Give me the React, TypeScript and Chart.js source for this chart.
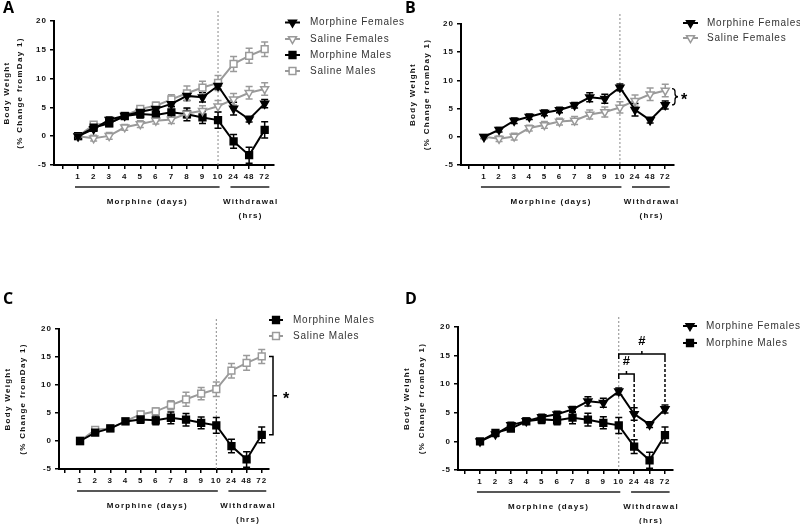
import React, { useEffect, useRef } from 'react';
import { Chart, registerables } from 'chart.js';

Chart.register(...registerables);

// ---------------- data ----------------
const xLabels = ['1', '2', '3', '4', '5', '6', '7', '8', '9', '10', '24', '48', '72'];
const xPositions = [1, 2, 3, 4, 5, 6, 7, 8, 9, 10, 11, 12, 13];
const xTickPositions = [0, 1, 2, 3, 4, 5, 6, 7, 8, 9, 10, 11, 12, 13];
const yTicks = [-5, 0, 5, 10, 15, 20];

const morphineFemales = [0, 1.25, 2.85, 3.55, 4.25, 4.75, 5.6, 7.0, 6.75, 8.75, 4.8, 2.95, 5.65];
const morphineFemalesErr = [0.3, 0.4, 0.5, 0.5, 0.5, 0.5, 0.5, 0.8, 0.8, 0.6, 1.1, 0.5, 0.7];
const salineFemales = [0, -0.35, 0.05, 1.55, 2.1, 2.7, 2.9, 3.95, 4.4, 5.2, 6.4, 7.55, 8.2];
const salineFemalesErr = [0.3, 0.5, 0.6, 0.5, 0.6, 0.6, 0.7, 0.8, 0.9, 1.0, 1.0, 1.1, 1.1];
const morphineMales = [0, 1.5, 2.25, 3.5, 3.85, 3.7, 4.15, 3.8, 3.25, 2.8, -0.9, -3.3, 1.1];
const morphineMalesErr = [0.3, 0.4, 0.4, 0.5, 0.7, 0.8, 1.05, 1.1, 1.05, 1.4, 1.2, 1.4, 1.4];
const salineMales = [0, 2.0, 2.25, 3.55, 4.75, 5.3, 6.4, 7.45, 8.45, 9.25, 12.55, 13.95, 15.1];
const salineMalesErr = [0.3, 0.4, 0.4, 0.4, 0.5, 0.6, 0.8, 1.25, 1.1, 1.3, 1.3, 1.3, 1.25];

const yTitle = ['Body Weight', '(% Change fromDay 1)'];
const groupMorphine = 'Morphine (days)';
const groupWithdrawal = ['Withdrawal', '(hrs)'];

// ---------------- styles ----------------
const BLACK = '#000000';
const GRAY = '#9a9a9a';
const TEXT = '#111111';
const FONT = '"Liberation Sans", Arial, Helvetica, sans-serif';

type SeriesKey = 'mf' | 'sf' | 'mm' | 'sm';
interface SeriesDef {
  label: string;
  data: number[];
  err: number[];
  color: string;
  shape: 'triangle' | 'square';
  filled: boolean;
}
const SERIES: Record<SeriesKey, SeriesDef> = {
  mf: { label: 'Morphine Females', data: morphineFemales, err: morphineFemalesErr, color: BLACK, shape: 'triangle', filled: true },
  sf: { label: 'Saline Females', data: salineFemales, err: salineFemalesErr, color: GRAY, shape: 'triangle', filled: false },
  mm: { label: 'Morphine Males', data: morphineMales, err: morphineMalesErr, color: BLACK, shape: 'square', filled: true },
  sm: { label: 'Saline Males', data: salineMales, err: salineMalesErr, color: GRAY, shape: 'square', filled: false },
};

interface PanelCfg {
  letter: string;
  ox: number;
  oy: number;
  w: number;
  left: number;
  right: number;
  top: number;
  bottom: number;
  xMin: number;
  xMax: number;
  series: SeriesKey[];
  legend: { x1: number; x2: number; tx: number; ys: number[] };
  titleX: [number, number];
  letterPos: [number, number];
  extra?: (chart: any) => void;
}

function drawMarker(ctx: CanvasRenderingContext2D, shape: string, x: number, y: number, r: number, fill: string, stroke: string) {
  ctx.beginPath();
  if (shape === 'triangle') {
    ctx.moveTo(x, y + r);
    ctx.lineTo(x - r * 0.866, y - r / 2);
    ctx.lineTo(x + r * 0.866, y - r / 2);
    ctx.closePath();
  } else {
    const h = r * Math.SQRT1_2;
    ctx.rect(x - h, y - h, 2 * h, 2 * h);
  }
  ctx.fillStyle = fill;
  ctx.fill();
  ctx.strokeStyle = stroke;
  ctx.lineWidth = 1.5;
  ctx.stroke();
}

function text(ctx: CanvasRenderingContext2D, s: string, x: number, y: number, font: string, align: CanvasTextAlign = 'center', spacing = '0px', color = TEXT) {
  ctx.save();
  (ctx as any).letterSpacing = spacing;
  ctx.font = font;
  ctx.fillStyle = color;
  ctx.textAlign = align;
  ctx.textBaseline = 'middle';
  ctx.fillText(s, x, y);
  ctx.restore();
}

function squareBracket(ctx: CanvasRenderingContext2D, x: number, yt: number, yb: number) {
  const mid = (yt + yb) / 2;
  ctx.save();
  ctx.strokeStyle = BLACK;
  ctx.lineWidth = 1.5;
  ctx.beginPath();
  ctx.moveTo(x - 4, yt);
  ctx.lineTo(x, yt);
  ctx.lineTo(x, yb);
  ctx.lineTo(x - 4, yb);
  ctx.moveTo(x, mid);
  ctx.lineTo(x + 4, mid);
  ctx.stroke();
  ctx.restore();
}

function curlyBrace(ctx: CanvasRenderingContext2D, x: number, yt: number, yb: number) {
  const mid = (yt + yb) / 2;
  ctx.save();
  ctx.strokeStyle = BLACK;
  ctx.lineWidth = 1.3;
  ctx.beginPath();
  ctx.moveTo(x - 3, yt);
  ctx.quadraticCurveTo(x, yt, x, yt + 3);
  ctx.lineTo(x, mid - 3);
  ctx.quadraticCurveTo(x, mid, x + 3, mid);
  ctx.quadraticCurveTo(x, mid, x, mid + 3);
  ctx.lineTo(x, yb - 3);
  ctx.quadraticCurveTo(x, yb, x - 3, yb);
  ctx.stroke();
  ctx.restore();
}

function hashBracket(ctx: CanvasRenderingContext2D, xa: number, xb: number, yb: number) {
  const xm = (xa + xb) / 2;
  ctx.save();
  ctx.strokeStyle = BLACK;
  ctx.lineWidth = 1.5;
  ctx.beginPath();
  ctx.moveTo(xa, yb + 5);
  ctx.lineTo(xa, yb);
  ctx.lineTo(xb, yb);
  ctx.lineTo(xb, yb + 5);
  ctx.moveTo(xm, yb);
  ctx.lineTo(xm, yb - 3);
  ctx.stroke();
  ctx.restore();
  text(ctx, '#', xm, yb - 12, `bold 13px ${FONT}`, 'center', '0px', BLACK);
}

function dashedDrop(ctx: CanvasRenderingContext2D, x: number, y1: number, y2: number) {
  ctx.save();
  ctx.strokeStyle = BLACK;
  ctx.lineWidth = 1.5;
  ctx.setLineDash([3, 2]);
  ctx.beginPath();
  ctx.moveTo(x, y1);
  ctx.lineTo(x, y2);
  ctx.stroke();
  ctx.restore();
}

const PANELS: PanelCfg[] = [
  {
    letter: 'A', ox: 0, oy: 0, w: 420,
    left: 54, right: 274, top: 21, bottom: 165,
    xMin: -0.55, xMax: 13.6,
    series: ['mf', 'sf', 'mm', 'sm'],
    legend: { x1: 285, x2: 300, tx: 310, ys: [22.5, 39, 55, 71] },
    titleX: [7, 20],
    letterPos: [3, 13],
  },
  {
    letter: 'B', ox: 400, oy: 0, w: 400,
    left: 61, right: 274, top: 24, bottom: 165,
    xMin: -0.52, xMax: 13.58,
    series: ['mf', 'sf'],
    legend: { x1: 283, x2: 298, tx: 307, ys: [23, 38] },
    titleX: [13, 27],
    letterPos: [5, 13],
    extra: (chart) => {
      const { ctx, scales: { y } } = chart;
      const yt = y.getPixelForValue(salineFemales[12]) - 2;
      const yb = y.getPixelForValue(morphineFemales[12]);
      curlyBrace(ctx, 275, yt, yb);
      text(ctx, '*', 284, (yt + yb) / 2 + 4, `bold 16px ${FONT}`, 'center', '0px', BLACK);
    },
  },
  {
    letter: 'C', ox: 0, oy: 262, w: 400,
    left: 59, right: 269, top: 67, bottom: 207,
    xMin: -0.39, xMax: 13.48,
    series: ['mm', 'sm'],
    legend: { x1: 269, x2: 283, tx: 293, ys: [58, 74] },
    titleX: [8, 23],
    letterPos: [3, 42],
    extra: (chart) => {
      const { ctx, scales: { y } } = chart;
      const yt = y.getPixelForValue(salineMales[12]);
      const yb = y.getPixelForValue(morphineMales[12]);
      squareBracket(ctx, 273, yt, yb);
      text(ctx, '*', 286, (yt + yb) / 2 + 4, `bold 16px ${FONT}`, 'center', '0px', BLACK);
    },
  },
  {
    letter: 'D', ox: 400, oy: 262, w: 400,
    left: 58, right: 273, top: 65, bottom: 208,
    xMin: -0.43, xMax: 13.52,
    series: ['mf', 'mm'],
    legend: { x1: 283, x2: 297, tx: 306, ys: [64, 81] },
    titleX: [7, 22],
    letterPos: [5, 42],
    extra: (chart) => {
      const { ctx, scales: { x, y } } = chart;
      const x10 = x.getPixelForValue(10);
      const x11 = x.getPixelForValue(11);
      const x13 = x.getPixelForValue(13);
      const yBig = y.getPixelForValue(15.3);
      const ySmall = y.getPixelForValue(11.8);
      hashBracket(ctx, x10, x13, yBig);
      hashBracket(ctx, x10, x11, ySmall);
      dashedDrop(ctx, x11, ySmall + 5, y.getPixelForValue(0.5));
      dashedDrop(ctx, x13, yBig + 5, y.getPixelForValue(6.9));
    },
  },
];

function buildConfig(cfg: PanelCfg): any {
  const H = 262;
  const datasets = cfg.series.map((k) => {
    const s = SERIES[k];
    return {
      label: s.label,
      data: s.data.map((v, i) => ({ x: xPositions[i], y: v })),
      borderColor: s.color,
      borderWidth: 2,
      tension: 0,
      fill: false,
      pointStyle: s.shape === 'triangle' ? 'triangle' : 'rect',
      rotation: s.shape === 'triangle' ? 180 : 0,
      pointRotation: s.shape === 'triangle' ? 180 : 0,
      pointRadius: s.shape === 'triangle' ? 4.6 : 4.8,
      pointBackgroundColor: s.filled ? s.color : '#ffffff',
      pointBorderColor: s.color,
      pointBorderWidth: 1.5,
    };
  });

  const tickFont = { family: FONT, size: 8, weight: 'bold' as const };

  const decor = {
    id: 'decor' + cfg.letter,
    beforeDraw(chart: any) {
      (chart.ctx as any).letterSpacing = '1px';
    },
    beforeDatasetsDraw(chart: any) {
      const { ctx, chartArea, scales: { x, y } } = chart;
      ctx.save();
      // dotted divider at day 10
      const xd = x.getPixelForValue(10);
      ctx.strokeStyle = '#8a8a8a';
      ctx.lineWidth = 1;
      ctx.setLineDash([2, 2]);
      ctx.beginPath();
      ctx.moveTo(xd, chartArea.top - 10);
      ctx.lineTo(xd, chartArea.bottom);
      ctx.stroke();
      ctx.setLineDash([]);
      // error bars
      for (const k of cfg.series) {
        const s = SERIES[k];
        ctx.strokeStyle = s.color;
        ctx.lineWidth = 1.5;
        s.data.forEach((v, i) => {
          const px = x.getPixelForValue(xPositions[i]);
          const yt = y.getPixelForValue(v + s.err[i]);
          const yb = y.getPixelForValue(v - s.err[i]);
          ctx.beginPath();
          ctx.moveTo(px, yt);
          ctx.lineTo(px, yb);
          ctx.moveTo(px - 3.5, yt);
          ctx.lineTo(px + 3.5, yt);
          ctx.moveTo(px - 3.5, yb);
          ctx.lineTo(px + 3.5, yb);
          ctx.stroke();
        });
      }
      ctx.restore();
    },
    afterDraw(chart: any) {
      const { ctx, chartArea, scales: { x } } = chart;
      const { top, bottom } = chartArea;
      ctx.save();
      (ctx as any).letterSpacing = '0px';

      // group underlines
      ctx.strokeStyle = '#222222';
      ctx.lineWidth = 1.5;
      ctx.beginPath();
      ctx.moveTo(x.getPixelForValue(0.8), bottom + 22);
      ctx.lineTo(x.getPixelForValue(10.1), bottom + 22);
      ctx.moveTo(x.getPixelForValue(10.8), bottom + 22);
      ctx.lineTo(x.getPixelForValue(13.3), bottom + 22);
      ctx.stroke();

      const bf = `bold 8px ${FONT}`;
      text(ctx, groupMorphine, x.getPixelForValue(5.45), bottom + 37, bf, 'center', '1.3px');
      text(ctx, groupWithdrawal[0], x.getPixelForValue(12.1), bottom + 37, bf, 'center', '1.3px');
      text(ctx, groupWithdrawal[1], x.getPixelForValue(12.1), bottom + 51, bf, 'center', '1.3px');

      // y title (rotated)
      const cy = (top + bottom) / 2;
      yTitle.forEach((t, i) => {
        ctx.save();
        ctx.translate(cfg.titleX[i], cy);
        ctx.rotate(-Math.PI / 2);
        text(ctx, t, 0, 0, bf, 'center', '1.3px');
        ctx.restore();
      });

      // legend
      cfg.series.forEach((k, i) => {
        const s = SERIES[k];
        const ly = cfg.legend.ys[i];
        ctx.save();
        ctx.strokeStyle = s.color;
        ctx.lineWidth = 2;
        ctx.beginPath();
        ctx.moveTo(cfg.legend.x1, ly);
        ctx.lineTo(cfg.legend.x2, ly);
        ctx.stroke();
        drawMarker(ctx, s.shape, (cfg.legend.x1 + cfg.legend.x2) / 2, ly, s.shape === 'triangle' ? 4.6 : 4.8, s.filled ? s.color : '#ffffff', s.color);
        ctx.restore();
        text(ctx, s.label, cfg.legend.tx, ly, `10px ${FONT}`, 'left', '0.75px', '#333333');
      });

      // panel letter
      ctx.save();
      ctx.font = `bold 16px "Open Sans", ${FONT}`;
      ctx.fillStyle = BLACK;
      ctx.textAlign = 'left';
      ctx.textBaseline = 'alphabetic';
      ctx.fillText(cfg.letter, cfg.letterPos[0], cfg.letterPos[1]);
      ctx.restore();

      if (cfg.extra) cfg.extra(chart);
      ctx.restore();
    },
  };

  return {
    type: 'line',
    data: { datasets },
    options: {
      responsive: false,
      animation: false,
      devicePixelRatio: 1,
      layout: { padding: { left: 0, top: cfg.top, right: cfg.w - cfg.right, bottom: 0 } },
      plugins: { legend: { display: false }, tooltip: { enabled: false }, title: { display: false } },
      scales: {
        x: {
          type: 'linear',
          min: cfg.xMin,
          max: cfg.xMax,
          afterBuildTicks: (s: any) => {
            s.ticks = xTickPositions.map((v) => ({ value: v }));
          },
          afterFit: (s: any) => {
            s.height = H - cfg.bottom;
          },
          ticks: {
            autoSkip: false,
            maxRotation: 0,
            minRotation: 0,
            padding: 3,
            color: TEXT,
            font: tickFont,
            callback: (v: number) => (v >= 1 && v <= 13 ? xLabels[Math.round(v) - 1] : ''),
          },
          grid: { drawOnChartArea: false, drawTicks: true, tickLength: 4, color: BLACK, lineWidth: 1.5 },
          border: { display: true, color: BLACK, width: 2 },
        },
        y: {
          type: 'linear',
          min: -5,
          max: 20,
          afterBuildTicks: (s: any) => {
            s.ticks = yTicks.map((v) => ({ value: v }));
          },
          afterFit: (s: any) => {
            s.width = cfg.left;
          },
          ticks: { padding: 3, color: TEXT, font: tickFont },
          grid: { drawOnChartArea: false, drawTicks: true, tickLength: 4, color: BLACK, lineWidth: 1.5 },
          border: { display: true, color: BLACK, width: 2 },
        },
      },
    },
    plugins: [decor],
  };
}

function Panel({ cfg }: { cfg: PanelCfg }) {
  const ref = useRef<HTMLCanvasElement>(null);
  useEffect(() => {
    if (!ref.current) return;
    const chart = new Chart(ref.current, buildConfig(cfg));
    return () => chart.destroy();
  }, [cfg]);
  return (
    <canvas
      ref={ref}
      width={cfg.w}
      height={262}
      style={{ position: 'absolute', left: cfg.ox, top: cfg.oy, width: cfg.w, height: 262, display: 'block' }}
    />
  );
}

export default function App() {
  return (
    <div style={{ position: 'absolute', left: 0, top: 0, width: 800, height: 524, background: '#ffffff', overflow: 'hidden' }}>
      {PANELS.map((p) => (
        <Panel key={p.letter} cfg={p} />
      ))}
    </div>
  );
}
